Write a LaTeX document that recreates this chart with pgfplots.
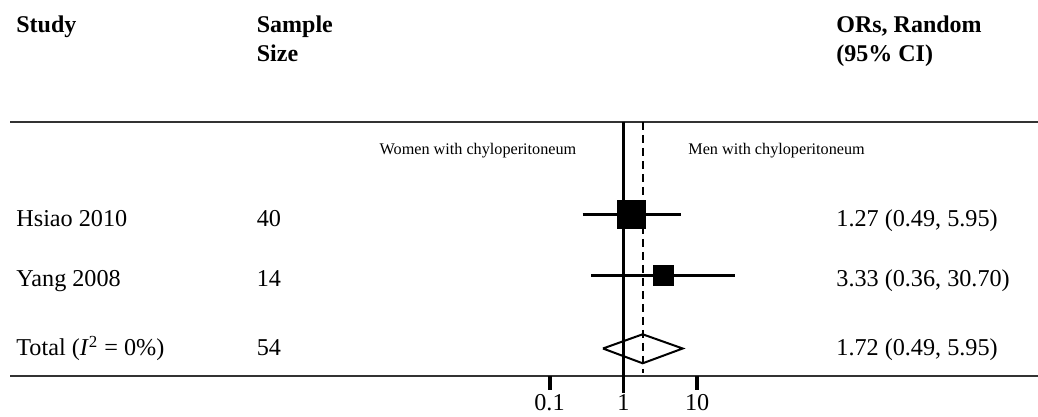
\documentclass[border=0pt]{standalone}
\usepackage{fontspec}
\setmainfont{Liberation Serif}
\usepackage{pgfplots}
\pgfplotsset{compat=1.18}
\tikzset{txt/.style={font=\fontsize{12.1}{14}\selectfont, inner sep=0pt, anchor=base west},
         hdr/.style={font=\fontsize{12}{14}\selectfont\bfseries, inner sep=0pt, anchor=base west},
         sml/.style={font=\fontsize{8.1}{10}\selectfont, inner sep=0pt}}
\begin{document}
\begin{tikzpicture}
\path[use as bounding box] (0,0) rectangle (519pt,208.5pt);
\begin{axis}[
  at={(0,0)}, anchor=south west,
  width=519pt, height=208.5pt, scale only axis,
  hide axis, clip=false,
  xmode=log, log basis x=10,
  xmin=3.583e-9, xmax=4.159e5,
  ymin=0, ymax=417,
]
% horizontal rules
\addplot[draw=black!80, line width=1pt] coordinates {(4.9e-9,295) (4.159e5,295)};
\addplot[draw=black!80, line width=1pt] coordinates {(4.9e-9,41) (4.159e5,41)};
% line of no effect
\addplot[black, line width=1.6pt] coordinates {(1,295) (1,24)};
% pooled estimate line
\addplot[black, line width=1pt, dash pattern=on 4pt off 2.5pt] coordinates {(1.83,295) (1.83,44)};
% ticks
\addplot[black, line width=2pt] coordinates {(0.1,41) (0.1,27)};
\addplot[black, line width=2pt] coordinates {(10,41) (10,27)};
% CIs
\addplot[black, line width=1.5pt] coordinates {(0.28,202.5) (6.0,202.5)};
\addplot[black, line width=1.5pt] coordinates {(0.37,141) (33,141)};
% point estimates
\addplot[only marks, mark=square*, mark size=7pt, mark options={fill=black, draw=black, line width=0pt}] coordinates {(1.29,202.5)};
\addplot[only marks, mark=square*, mark size=5pt, mark options={fill=black, draw=black, line width=0pt}] coordinates {(3.45,141)};
% diamond
\addplot[black, line width=1pt] coordinates {(0.53,68.5) (1.83,82.7) (6.38,68.5) (1.83,53.7) (0.53,68.5)};
% tick labels
\node[txt, anchor=base] at (axis cs:0.1,6) {0.1};
\node[txt, anchor=base] at (axis cs:1,6) {1};
\node[txt, anchor=base] at (axis cs:10,6) {10};
% headers
\node[hdr] at (axis description cs:0.0154,0.9209) {Study};
\node[hdr] at (axis description cs:0.2471,0.9209) {Sample};
\node[hdr] at (axis description cs:0.2471,0.8513) {Size};
\node[hdr] at (axis description cs:0.8054,0.9209) {ORs, Random};
\node[hdr] at (axis description cs:0.8054,0.8513) {(95\% CI)};
% side labels
\node[sml, anchor=base] at (axis description cs:0.4605,0.6283) {Women with chyloperitoneum};
\node[sml, anchor=base west] at (axis description cs:0.6628,0.6283) {Men with chyloperitoneum};
% rows
\node[txt] at (axis description cs:0.0154,0.4580) {Hsiao 2010};
\node[txt] at (axis description cs:0.2471,0.4580) {40};
\node[txt] at (axis description cs:0.8054,0.4580) {1.27 (0.49, 5.95)};
\node[txt] at (axis description cs:0.0154,0.3141) {Yang 2008};
\node[txt] at (axis description cs:0.2471,0.3141) {14};
\node[txt] at (axis description cs:0.8054,0.3141) {3.33 (0.36, 30.70)};
\node[txt] at (axis description cs:0.0154,0.1463) {Total (\textit{I}\textsuperscript{2} = 0\%)};
\node[txt] at (axis description cs:0.2471,0.1463) {54};
\node[txt] at (axis description cs:0.8054,0.1463) {1.72 (0.49, 5.95)};
\end{axis}
\end{tikzpicture}
\end{document}
